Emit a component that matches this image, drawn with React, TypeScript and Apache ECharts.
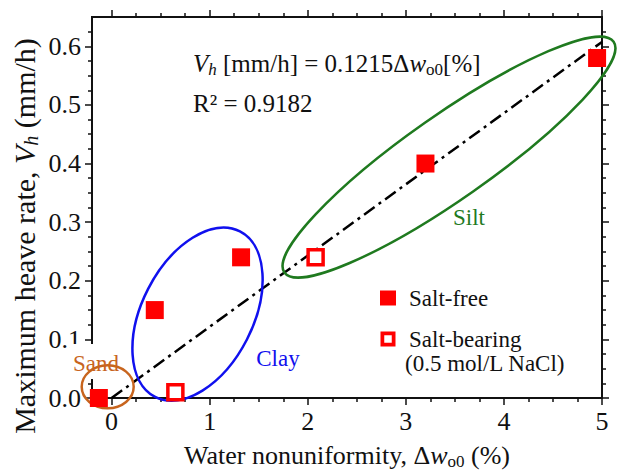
import { useEffect, useRef } from "react";
import * as echarts from "echarts";

const FONT = "'Liberation Serif', 'Times New Roman', serif";
const INK = "#111111";
const RED = "#ff0000";

// Measured points: [water nonuniformity Δw_o0 (%), maximum heave rate Vh (mm/h)]
const saltFree: [number, number][] = [
  [-0.13, 0.0],
  [0.44, 0.15],
  [1.32, 0.24],
  [3.2, 0.4],
  [4.95, 0.58],
];
const saltBearing: [number, number][] = [
  [0.65, 0.01],
  [2.08, 0.24],
];

// Linear fit through the origin: Vh = 0.1215 Δw_o0
const fitSlope = 0.1215;
const fitFrom = 0;
const fitTo = 5;

const xMajorTicks = [0, 1, 2, 3, 4, 5];
const xMinorTicks = [
  0.25, 0.5, 0.75, 1.25, 1.5, 1.75, 2.25, 2.5, 2.75, 3.25, 3.5, 3.75, 4.25, 4.5, 4.75,
];
const yMajorTicks = [0, 0.1, 0.2, 0.3, 0.4, 0.5, 0.6];
const yMinorTicks = [
  0.025, 0.05, 0.075, 0.125, 0.15, 0.175, 0.225, 0.25, 0.275, 0.325, 0.35, 0.375,
  0.425, 0.45, 0.475, 0.525, 0.55, 0.575, 0.625,
];

const X_MIN = -0.2;
const X_MAX = 5;
const Y_MIN = 0;
const Y_MAX = 0.65;

const textRich = (size: number, color = INK) => ({
  n: { fontFamily: FONT, fontSize: size, color, fill: color, lineHeight: size + 4 },
  i: { fontFamily: FONT, fontSize: size, color, fill: color, fontStyle: "italic", lineHeight: size + 4 },
  s: {
    fontFamily: FONT,
    fontSize: Math.round(size * 0.66),
    color,
    fill: color,
    lineHeight: Math.round(size * 0.66),
    verticalAlign: "bottom",
  },
  si: {
    fontFamily: FONT,
    fontSize: Math.round(size * 0.66),
    color,
    fill: color,
    fontStyle: "italic",
    lineHeight: Math.round(size * 0.66),
    verticalAlign: "bottom",
  },
});

function xAxisDef(position: "bottom" | "top", major: boolean) {
  return {
    type: "value",
    position,
    min: X_MIN,
    max: X_MAX,
    splitLine: { show: false },
    axisLine: { show: true, onZero: false, lineStyle: { color: INK, width: 2 } },
    axisTick: {
      show: true,
      inside: false,
      length: major ? 7 : 4,
      customValues: major ? xMajorTicks : xMinorTicks,
      lineStyle: { color: INK, width: 1.5 },
    },
    axisLabel: {
      show: position === "bottom" && major,
      customValues: xMajorTicks,
      formatter: (v: number) => String(v),
      fontFamily: FONT,
      fontSize: 26,
      color: INK,
      margin: 10,
    },
    ...(position === "bottom" && major
      ? {
          name: "{n|Water nonuniformity, Δ}{i|w}{s|o0}{n| (%)}",
          nameLocation: "middle",
          nameGap: 42,
          nameTextStyle: { rich: textRich(26) },
        }
      : {}),
  };
}

function yAxisDef(position: "left" | "right", major: boolean) {
  return {
    type: "value",
    position,
    min: Y_MIN,
    max: Y_MAX,
    splitLine: { show: false },
    axisLine: { show: true, onZero: false, lineStyle: { color: INK, width: 2 } },
    axisTick: {
      show: true,
      inside: false,
      length: major ? 7 : 4,
      customValues: major ? yMajorTicks : yMinorTicks,
      lineStyle: { color: INK, width: 1.5 },
    },
    axisLabel: {
      show: position === "left" && major,
      customValues: yMajorTicks,
      formatter: (v: number) => v.toFixed(1),
      fontFamily: FONT,
      fontSize: 26,
      color: INK,
      margin: 11,
    },
  };
}

// Soil-group outlines: centre in data units, semi-axes in pixels, tilt in degrees
const sandOutline = { center: [-0.04, 0.019], rx: 26, ry: 21.5, tilt: 0, color: "#c8651e" };
const clayOutline = { center: [0.876, 0.143], rx: 93, ry: 55.5, tilt: 62.9, color: "#1010ee" };
const siltOutline = { center: [3.44, 0.411], rx: 201, ry: 42, tilt: 35, color: "#1f7a1f" };

export default function App() {
  const ref = useRef<HTMLDivElement>(null);

  useEffect(() => {
    if (!ref.current) return;
    const chart = echarts.init(ref.current, null, { renderer: "svg" });

    chart.setOption({
      animation: false,
      backgroundColor: "#ffffff",
      grid: { left: 92, top: 17, width: 510, height: 381, containLabel: false },
      xAxis: [
        xAxisDef("bottom", true),
        xAxisDef("bottom", false),
        xAxisDef("top", true),
        xAxisDef("top", false),
      ],
      yAxis: [
        yAxisDef("left", true),
        yAxisDef("left", false),
        yAxisDef("right", true),
        yAxisDef("right", false),
      ],
      legend: {
        orient: "vertical",
        left: 375,
        top: 280,
        itemWidth: 16,
        itemHeight: 15,
        itemGap: 15,
        selectedMode: false,
        textStyle: {
          fontFamily: FONT,
          fontSize: 23,
          color: INK,
          lineHeight: 26,
          padding: [0, 0, 0, 8],
        },
        data: [
          { name: "Salt-free", icon: "rect", itemStyle: { color: RED, borderWidth: 0 } },
          {
            name: "Salt-bearing",
            icon: "path://M0,0H16V16H0Z M4,4V12H12V4Z",
            itemStyle: { color: RED, borderWidth: 0 },
          },
        ],
      },
      series: [
        {
          name: "fit",
          type: "line",
          data: [
            [fitFrom, fitSlope * fitFrom],
            [fitTo, fitSlope * fitTo],
          ],
          showSymbol: false,
          symbol: "none",
          silent: true,
          z: 1,
          lineStyle: { color: "#000000", width: 2.5, type: [13, 5, 3, 5], cap: "butt" },
        },
        {
          name: "Salt-free",
          type: "scatter",
          data: saltFree,
          symbol: "rect",
          symbolSize: 18,
          z: 3,
          itemStyle: { color: RED, opacity: 1 },
        },
        {
          name: "Salt-bearing",
          type: "scatter",
          data: saltBearing,
          symbol: "rect",
          symbolSize: 15,
          z: 3,
          itemStyle: { color: "#ffffff", borderColor: RED, borderWidth: 3.5, opacity: 1 },
        },
      ],
    });

    const px = (p: number[]) =>
      chart.convertToPixel({ xAxisIndex: 0, yAxisIndex: 0 }, p) as number[];

    const outline = (o: typeof sandOutline) => {
      const [cx, cy] = px(o.center);
      return {
        type: "ellipse",
        x: cx,
        y: cy,
        rotation: (o.tilt * Math.PI) / 180,
        shape: { cx: 0, cy: 0, rx: o.rx, ry: o.ry },
        style: { fill: "none", stroke: o.color, lineWidth: 2.5 },
        z: 1,
        z2: 10,
        silent: true,
      };
    };

    const label = (text: string, x: number, y: number, color: string) => ({
      type: "text",
      x,
      y,
      z: 4,
      silent: true,
      style: {
        text,
        fill: color,
        font: `23px ${FONT}`,
        textAlign: "center",
        textVerticalAlign: "middle",
        align: "center",
        verticalAlign: "middle",
      },
    });

    chart.setOption({
      graphic: [
        // white patch behind the "Sand" tag, interrupting the left frame
        {
          type: "rect",
          shape: { x: 70, y: 344, width: 52, height: 35 },
          style: { fill: "#ffffff" },
          z: 1,
          z2: 0,
          silent: true,
        },
        outline(sandOutline),
        outline(clayOutline),
        outline(siltOutline),
        label("Sand", 96, 363, "#c8651e"),
        label("Clay", 278, 358, "#1010ee"),
        label("Silt", 469, 217, "#1f7a1f"),
        {
          type: "text",
          x: 405,
          y: 363,
          z: 4,
          silent: true,
          style: {
            text: "(0.5 mol/L NaCl)",
            fill: INK,
            font: `23px ${FONT}`,
            textVerticalAlign: "middle",
            verticalAlign: "middle",
          },
        },
        {
          type: "text",
          x: 193,
          y: 63,
          z: 4,
          silent: true,
          style: {
            text: "{i|V}{si|h}{n| [mm/h] = 0.1215Δ}{i|w}{s|o0}{n|[%]}",
            rich: textRich(25),
            textVerticalAlign: "middle",
            verticalAlign: "middle",
          },
        },
        {
          type: "text",
          x: 193,
          y: 103,
          z: 4,
          silent: true,
          style: {
            text: "R² = 0.9182",
            fill: INK,
            font: `25px ${FONT}`,
            textVerticalAlign: "middle",
            verticalAlign: "middle",
          },
        },
        {
          type: "text",
          x: 24,
          y: 236,
          rotation: Math.PI / 2,
          z: 4,
          silent: true,
          style: {
            text: "{n|Maximum heave rate, }{i|V}{si|h}{n| (mm/h)}",
            rich: textRich(30),
            textAlign: "center",
            textVerticalAlign: "middle",
            align: "center",
            verticalAlign: "middle",
          },
        },
      ],
    });

    return () => chart.dispose();
  }, []);

  return (
    <div
      ref={ref}
      style={{ position: "fixed", left: 0, top: 0, width: 618, height: 476, background: "#fff" }}
    />
  );
}
